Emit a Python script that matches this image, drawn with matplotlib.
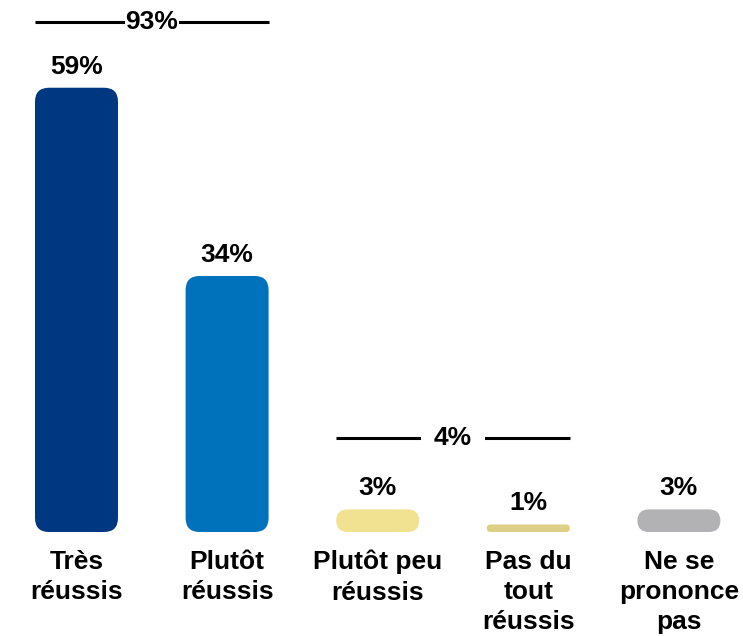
import matplotlib.pyplot as plt
from matplotlib.patches import FancyBboxPatch

categories = ['Très\nréussis', 'Plutôt\nréussis', 'Plutôt peu\nréussis', 'Pas du\ntout\nréussis', 'Ne se\nprononce\npas']
values = [59, 34, 3, 1, 3]
value_labels = ['59%', '34%', '3%', '1%', '3%']
colors = ['#003781', '#0071BB', '#F1E292', '#DDD086', '#B2B2B4']
groups = [(0, 1, '93%'), (2, 3, '4%')]

plt.rcParams['font.family'] = ['Liberation Sans', 'DejaVu Sans']

fig = plt.figure(figsize=(7.43, 6.36), dpi=100)
ax = fig.add_axes([0, 0, 1, 1])
# 1 category step ~ 150.6 px, 1% ~ 7.53 px
px_x, px_y = 150.6, 7.53
ax.set_xlim(-76.5 / px_x, (743 - 76.5) / px_x)
ax.set_ylim(-104 / px_y, (636 - 104) / px_y)
ax.axis('off')

w = 83 / px_x
aspect = px_x / px_y
for i, (v, c) in enumerate(zip(values, colors)):
    r_px = min(14, v * px_y / 2)
    box = FancyBboxPatch((i - w / 2, 0), w, v,
                         boxstyle='round,pad=0,rounding_size=%f' % (r_px / px_x),
                         mutation_aspect=aspect, fc=c, ec='none')
    ax.add_patch(box)
    ax.annotate(value_labels[i], (i, v), xytext=(0, 9), textcoords='offset pixels',
                ha='center', va='bottom', fontsize=19, fontweight='bold')
    ax.annotate(categories[i], (i, 0), xytext=(0, -18), textcoords='offset pixels',
                ha='center', va='top', fontsize=19, fontweight='bold', linespacing=1.32)

# brackets over groups
bracket_y = [67.7, 12.5]
gaps = [0.03, 0.5]
for (a, b, lab), y, g in zip(groups, bracket_y, gaps):
    ax.plot([a - w / 2, b + w / 2], [y, y], color='black', lw=2.2, solid_capstyle='butt')
    ax.text((a + b) / 2, y, lab, ha='center', va='center', fontsize=19, fontweight='bold',
            bbox=dict(boxstyle='square,pad=%f' % g, fc='white', ec='none'))

fig.savefig('out.png', dpi=100)
